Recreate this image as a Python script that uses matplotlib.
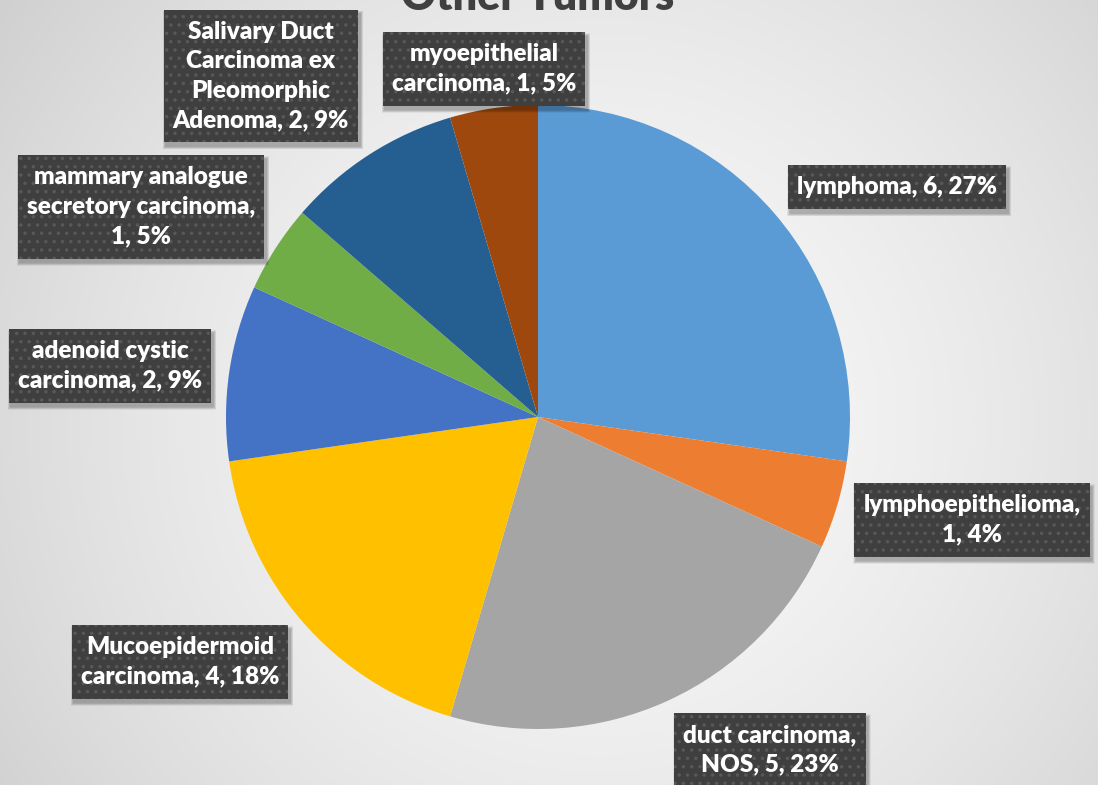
import numpy as np
import matplotlib
matplotlib.use("Agg")
import matplotlib.pyplot as plt
from matplotlib.patches import Rectangle

plt.rcParams['font.family'] = ['Lato', 'DejaVu Sans']
plt.rcParams['hatch.color'] = '#585858'
plt.rcParams['hatch.linewidth'] = 1.3

# tumour types and counts (clockwise from 12 o'clock)
names = ["lymphoma", "lymphoepithelioma", "duct carcinoma, NOS",
         "Mucoepidermoid carcinoma", "adenoid cystic carcinoma",
         "mammary analogue secretory carcinoma",
         "Salivary Duct Carcinoma ex Pleomorphic Adenoma",
         "myoepithelial carcinoma"]
counts = [6, 1, 5, 4, 2, 1, 2, 1]
colors = ["#5B9BD5", "#ED7D31", "#A5A5A5", "#FFC000", "#4472C4",
          "#70AD47", "#255E91", "#9E480E"]
label_text = [
    "lymphoma, 6, 27%",
    "lymphoepithelioma,\n1, 4%",
    "duct carcinoma,\nNOS, 5, 23%",
    "Mucoepidermoid\ncarcinoma, 4, 18%",
    "adenoid cystic\ncarcinoma, 2, 9%",
    "mammary analogue\nsecretory carcinoma,\n1, 5%",
    "Salivary Duct\nCarcinoma ex\nPleomorphic\nAdenoma, 2, 9%",
    "myoepithelial\ncarcinoma, 1, 5%",
]
label_pos = [(897, 187), (972, 520), (770, 750), (180, 662),
             (110, 366), (141, 207), (261, 76), (484, 69)]

W, H = 1098, 785
fig = plt.figure(figsize=(W / 100, H / 100), dpi=100)
ax = fig.add_axes([0, 0, 1, 1])

# soft radial background
yy, xx = np.mgrid[0:H, 0:W]
r = np.hypot(xx - 600, yy - 420) / np.hypot(600, 420)
shade = 0.975 - 0.16 * np.clip(r, 0, 1.2) ** 1.6
bg = np.dstack([shade, shade, shade])
ax.imshow(bg, extent=[0, W, 0, H], origin="upper", zorder=0)

cx, cy, rad = 538, H - 417, 312
ax.pie(counts, colors=colors, startangle=90, counterclock=False,
       center=(cx, cy), radius=rad, frame=True,
       wedgeprops=dict(linewidth=0))
ax.set_xlim(0, W)
ax.set_ylim(0, H)
ax.set_aspect("auto")
ax.axis("off")

ax.text(cx, H - 10, "Other Tumors", ha="center", va="baseline",
        fontsize=31, fontweight="heavy", color="#404040", zorder=5)

texts = []
for txt, (px, py) in zip(label_text, label_pos):
    t = ax.text(px, H - py, txt, ha="center", va="center", color="white",
                fontsize=17.5, fontweight="heavy", linespacing=1.42, zorder=8)
    texts.append(t)

# dark dotted label boxes with a soft drop shadow
fig.canvas.draw()
renderer = fig.canvas.get_renderer()
for t in texts:
    bb = t.get_window_extent(renderer)
    x0, y0 = bb.x0 - 9, bb.y0 - 11
    w, h = bb.width + 18, bb.height + 22
    for i in range(6, 0, -1):
        ax.add_patch(Rectangle((x0 + 2 - i * 0.5, y0 - 4 - i * 0.5),
                               w + i, h + i, facecolor="black",
                               edgecolor="none", alpha=0.05, zorder=6))
    ax.add_patch(Rectangle((x0, y0), w, h, facecolor="#3f3f3f",
                           edgecolor="#585858", linewidth=0, hatch="..",
                           zorder=7))

fig.savefig("out.png", dpi=100)
